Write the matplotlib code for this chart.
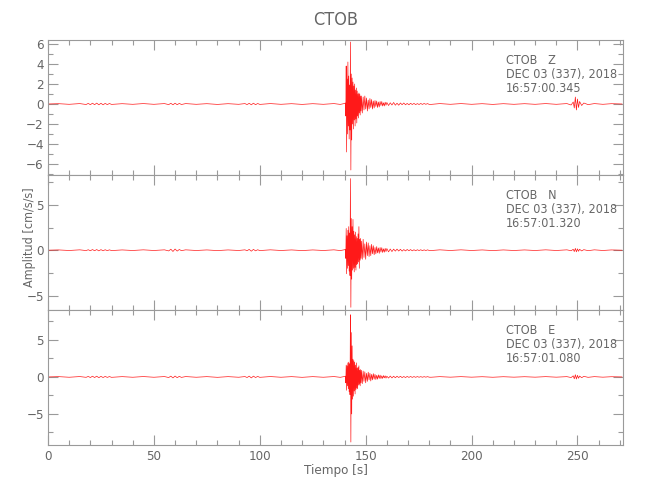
import numpy as np
import matplotlib
matplotlib.use("Agg")
import matplotlib.pyplot as plt
import matplotlib.font_manager as fm
from matplotlib.ticker import MultipleLocator

# ---------------- data ----------------
station = "CTOB"
components = ["Z", "N", "E"]
dates = ["DEC 03 (337), 2018"] * 3
start_times = ["16:57:00.345", "16:57:01.320", "16:57:01.080"]
ylims = [(-7.1, 6.4), (-6.6, 8.3), (-9.2, 9.05)]
y_major = [2, 5, 5]
y_minor = [1, 2.5, 2.5]

# background samples before the event (s)
pre_t = [0, 5, 10, 15, 18, 19, 20, 21, 22, 23, 24, 25, 26, 27, 28, 29, 30, 35, 40, 45,
         50, 55, 57, 58, 59, 60, 61, 62, 63, 65, 70, 75, 80, 85, 90, 93, 94, 95, 96, 97,
         98, 99, 100, 105, 110, 115, 120, 125, 130, 135, 138, 140]
z_pre = [0, 0.03, -0.03, 0.04, -0.05, 0.06, -0.07, 0.08, -0.07, 0.09, -0.08, 0.07, -0.08, 0.06,
         -0.06, 0.05, -0.04, 0.03, -0.03, 0.04, -0.03, 0.04, -0.06, 0.07, -0.08, 0.08, -0.07,
         0.06, -0.05, 0.04, -0.03, 0.03, -0.04, 0.03, -0.03, 0.04, -0.06, 0.07, -0.08, 0.08,
         -0.07, 0.05, -0.04, 0.04, -0.03, 0.03, -0.04, 0.03, -0.03, 0.04, -0.04, 0.05]
n_pre = [0, 0.03, -0.03, 0.04, -0.04, 0.05, -0.06, 0.07, -0.06, 0.07, -0.07, 0.06, -0.06, 0.05,
         -0.05, 0.04, -0.04, 0.03, -0.03, 0.04, -0.03, 0.04, -0.08, 0.11, -0.14, 0.13, -0.1,
         0.08, -0.05, 0.04, -0.03, 0.03, -0.04, 0.03, -0.03, 0.04, -0.06, 0.09, -0.11, 0.09,
         -0.07, 0.05, -0.04, 0.04, -0.03, 0.03, -0.04, 0.03, -0.03, 0.04, -0.04, 0.05]
e_pre = [0, 0.04, -0.04, 0.05, -0.05, 0.07, -0.08, 0.1, -0.08, 0.1, -0.1, 0.08, -0.08, 0.07,
         -0.06, 0.05, -0.05, 0.04, -0.04, 0.05, -0.04, 0.05, -0.08, 0.11, -0.13, 0.12, -0.1,
         0.08, -0.06, 0.05, -0.04, 0.04, -0.05, 0.04, -0.04, 0.05, -0.08, 0.11, -0.13, 0.11,
         -0.08, 0.07, -0.05, 0.05, -0.04, 0.04, -0.05, 0.04, -0.04, 0.05, -0.05, 0.06]

# event, dense part: 140.4 .. 148.0 s every 0.2 s
ev1_t = np.round(np.arange(140.4, 148.01, 0.2), 2)
z_ev1 = [0.1, -1.2, 3.8, -4.8, 2.5, -3.0, 4.2, -2.2, 2.8, -3.5, 1.9, -2.6, 6.2, -6.6, 3.0,
         -3.6, 2.6, -2.0, 2.2, -2.5, 1.8, -1.6, 2.0, -2.2, 1.4, -1.5, 1.6, -1.9, 1.3, -1.2,
         1.0, -1.4, 1.1, -0.9, 1.0, -1.1, 0.8, -0.7, 0.8]
n_ev1 = [0.1, -0.9, 2.4, -2.6, 1.6, -2.0, 2.2, -1.7, 2.6, -2.3, 1.9, -2.8, 7.9, -6.3, 3.5,
         -3.2, 2.6, -2.2, 3.4, -2.0, 2.1, -2.4, 1.7, -1.9, 2.0, -2.2, 1.5, -1.6, 1.3, -1.5,
         1.8, -1.3, 2.6, -2.0, 1.2, -1.1, 1.3, -0.9, 1.0]
e_ev1 = [0.1, -0.8, 1.6, -1.8, 1.5, -1.2, 1.9, -1.6, 2.0, -2.0, 1.8, -2.4, 8.4, -8.8, 6.0,
         -5.0, 4.2, -3.0, 2.4, -2.6, 2.2, -1.9, 2.0, -2.3, 1.6, -1.7, 1.9, -1.5, 1.2, -1.6,
         1.3, -1.1, 1.5, -1.0, 0.9, -1.2, 1.0, -0.8, 0.9]

# event coda: 148.4 .. 160.0 s every 0.4 s
ev2_t = np.round(np.arange(148.4, 160.01, 0.4), 2)
z_ev2 = [-0.9, 0.7, -0.6, 0.8, -0.5, 0.6, -0.7, 0.4, -0.5, 0.55, -0.35, 0.45, -0.5, 0.3, -0.4,
         0.35, -0.25, 0.3, -0.35, 0.2, -0.3, 0.25, -0.15, 0.25, -0.2, 0.12, -0.2, 0.18, -0.12, 0.15]
n_ev2 = [-1.0, 1.2, -0.8, 0.7, -1.0, 0.9, -0.6, 0.8, -0.7, 0.5, -0.6, 0.65, -0.4, 0.5, -0.5,
         0.3, -0.4, 0.4, -0.3, 0.25, -0.35, 0.3, -0.2, 0.28, -0.25, 0.15, -0.22, 0.2, -0.15, 0.18]
e_ev2 = [-0.9, 0.8, -0.6, 0.7, -0.8, 0.5, -0.6, 0.65, -0.4, 0.5, -0.55, 0.35, -0.4, 0.45, -0.3,
         0.35, -0.35, 0.22, -0.3, 0.28, -0.2, 0.25, -0.22, 0.15, -0.2, 0.18, -0.12, 0.15, -0.16, 0.1]

# late coda: 160.8 .. 180.0 s every 0.8 s
ev3_t = np.round(np.arange(160.8, 180.01, 0.8), 2)
z_ev3 = [-0.15, 0.12, -0.1, 0.15, -0.12, 0.08, -0.12, 0.1, -0.07, 0.1, -0.08, 0.06, -0.08, 0.07,
         -0.05, 0.06, -0.06, 0.04, -0.05, 0.05, -0.04, 0.05, -0.03, 0.04, -0.04]
n_ev3 = [-0.18, 0.13, -0.15, 0.12, -0.1, 0.12, -0.09, 0.1, -0.1, 0.07, -0.08, 0.08, -0.06, 0.07,
         -0.07, 0.05, -0.06, 0.05, -0.04, 0.05, -0.05, 0.04, -0.04, 0.04, -0.03]
e_ev3 = [-0.15, 0.12, -0.13, 0.1, -0.11, 0.1, -0.08, 0.09, -0.09, 0.06, -0.08, 0.07, -0.06, 0.06,
         -0.06, 0.05, -0.05, 0.05, -0.04, 0.04, -0.04, 0.04, -0.03, 0.04, -0.03]

# background after the event, with the small burst near 250 s
post_t = [180.8, 185, 190, 195, 200, 205, 210, 215, 220, 225, 230, 235, 240, 245, 247, 248,
          248.5, 249, 249.5, 250, 250.5, 251, 252, 253, 255, 258, 262, 266, 271]
z_post = [-0.04, 0.04, -0.03, 0.04, -0.03, 0.03, -0.04, 0.03, -0.03, 0.03, -0.03, 0.04, -0.03,
          0.04, -0.1, 0.2, -0.4, 0.7, -0.6, 0.5, -0.35, 0.25, -0.15, 0.1, -0.06, 0.04, -0.03,
          0.03, 0]
n_post = [-0.04, 0.04, -0.03, 0.04, -0.03, 0.03, -0.04, 0.03, -0.03, 0.03, -0.03, 0.04, -0.03,
          0.04, -0.06, 0.1, -0.15, 0.2, -0.18, 0.15, -0.12, 0.1, -0.08, 0.06, -0.05, 0.04,
          -0.03, 0.03, 0]
e_post = [-0.04, 0.04, -0.03, 0.04, -0.03, 0.03, -0.04, 0.03, -0.03, 0.03, -0.03, 0.04, -0.03,
          0.04, -0.08, 0.15, -0.25, 0.3, -0.28, 0.22, -0.18, 0.12, -0.1, 0.08, -0.05, 0.04,
          -0.03, 0.03, 0]

x_max = 271.5
x_major, x_minor = 50, 10

# ---------------- font choice: prefer a narrow face ----------------
_fonts = fm.fontManager.ttflist
_names = {f.name for f in _fonts}
_cond = {f.name for f in _fonts if str(f.stretch).lower() in ('condensed', 'semi-condensed', 'extra-condensed')}
stretch = 'normal'
if 'Liberation Sans Narrow' in _names:
    fam = ['Liberation Sans Narrow', 'DejaVu Sans']
    fs = 10
elif 'DejaVu Sans' in _cond:
    fam = ['DejaVu Sans']
    stretch = 'condensed'
    fs = 9
else:
    fam = ['Liberation Sans', 'DejaVu Sans']
    fs = 9
plt.rcParams['font.family'] = fam
plt.rcParams['font.stretch'] = stretch

gray = '#666666'
axcol = '#9a9a9a'

fig = plt.figure(figsize=(6.5, 5.0), dpi=100)
left, right, bottom, top = 48 / 650, 623 / 650, 1 - 445 / 500, 1 - 40 / 500
h = (top - bottom) / 3

traces = [
    (z_pre, z_ev1, z_ev2, z_ev3, z_post),
    (n_pre, n_ev1, n_ev2, n_ev3, n_post),
    (e_pre, e_ev1, e_ev2, e_ev3, e_post),
]
times = np.concatenate([pre_t, ev1_t, ev2_t, ev3_t, post_t])

axes = []
for i in range(3):
    ax = fig.add_axes([left, top - (i + 1) * h, right - left, h])
    axes.append(ax)
    y = np.concatenate([np.asarray(p, float) for p in traces[i]])
    ax.plot(times, y, color='red', lw=0.5, alpha=0.9)
    ax.set_xlim(0, x_max)
    ax.set_ylim(*ylims[i])
    ax.xaxis.set_major_locator(MultipleLocator(x_major))
    ax.xaxis.set_minor_locator(MultipleLocator(x_minor))
    ax.yaxis.set_major_locator(MultipleLocator(y_major[i]))
    ax.yaxis.set_minor_locator(MultipleLocator(y_minor[i]))
    ax.tick_params(which='both', direction='in', top=True, right=True,
                   colors=axcol, labelcolor=gray, labelsize=fs + 0.5, width=0.8)
    ax.tick_params(which='major', length=7)
    ax.tick_params(which='minor', length=3.5)
    ax.tick_params(axis='y', pad=3)
    for s in ax.spines.values():
        s.set_color(axcol)
        s.set_linewidth(0.8)
    if i < 2:
        ax.tick_params(labelbottom=False)
    ax.text((506 - 48) / 575, 0.745,
            f"{station}   {components[i]}\n{dates[i]}\n{start_times[i]}",
            transform=ax.transAxes, ha='left', va='center', fontsize=fs,
            color=gray, linespacing=1.12)

axes[0].set_title(station, fontsize=fs + 4, color=gray, pad=11)
axes[2].set_xlabel("Tiempo [s]", fontsize=fs + 0.5, color=gray, labelpad=1)
fig.text(30 / 650, 1 - 237 / 500, "Amplitud [cm/s/s]", rotation=90,
         ha='center', va='center', fontsize=fs, color=gray)

fig.savefig("out.png", dpi=100)
